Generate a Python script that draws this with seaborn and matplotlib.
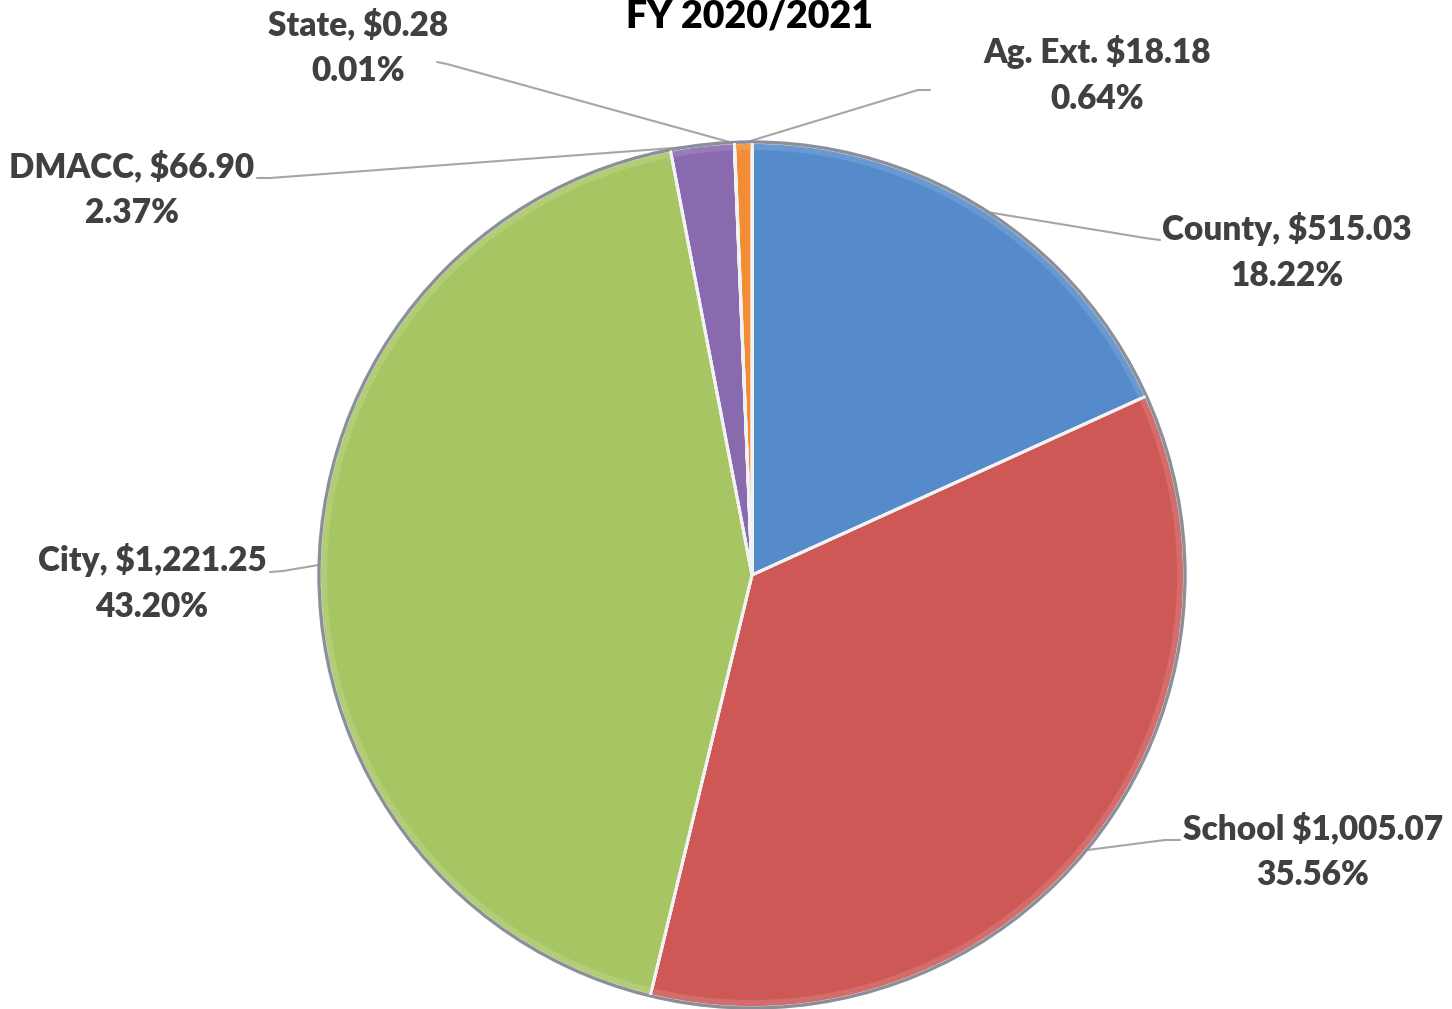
import numpy as np
import matplotlib
matplotlib.use("Agg")
import matplotlib.pyplot as plt
import seaborn as sns
from matplotlib.patches import Circle, Wedge

# Property tax dollar split, FY 2020/2021
categories = ["County", "School", "City", "DMACC", "State", "Ag. Ext."]
separators = [",", "", ",", ",", ",", ""]
amounts = [515.03, 1005.07, 1221.25, 66.90, 0.28, 18.18]
colors = ["#568BCB", "#CD5856", "#A7C663", "#8A6AAF", "#B9C9DA", "#F28C35"]

# label text centres (px from top-left) and leader elbow points
label_xy = [(1287, 252), (1313, 852), (152, 583), (132, 190), (358, 48), (1097, 75)]
leader_start = [(1160, 240), (1180, 840), (270, 572), (257, 178), (437, 62), (930, 90)]
leader_elbow = [(1145, 238), (1165, 840), (283, 571), (270, 178), (447, 64), (918, 90)]

W, H = 1452, 1009
cx, cy, R = 752, 575, 432

sns.set_theme(style="white")
plt.rcParams["font.family"] = ["Lato", "DejaVu Sans"]

fig = plt.figure(figsize=(W / 100, H / 100), dpi=100)
ax = fig.add_axes([0, 0, 1, 1])

center = (cx, H - cy)
wedges, _ = ax.pie(amounts, colors=colors, startangle=90, counterclock=False,
                   center=center, radius=R,
                   wedgeprops=dict(edgecolor="#EDEDED", linewidth=2.2))

# bevel rim: soft lighter band along the outer edge of each slice
for w, c in zip(wedges, colors):
    rgb = np.array(matplotlib.colors.to_rgb(c))
    light = rgb + (1 - rgb) * 0.12
    ax.add_patch(Wedge(center, R - 1, w.theta1, w.theta2, width=6,
                       facecolor=light, edgecolor="none", zorder=2.5))
ax.add_patch(Circle(center, R + 1, facecolor="none", edgecolor="#8A8F99",
                    linewidth=2.4, zorder=3))
for w in wedges:
    for t in (w.theta1, w.theta2):
        a = np.deg2rad(t)
        ax.plot([center[0], center[0] + R * np.cos(a)],
                [center[1], center[1] + R * np.sin(a)],
                color="#F2F2F2", lw=2.0, zorder=3.2, solid_capstyle="butt")

total = sum(amounts)
txt_color = "#404040"
for w, name, sep, amt, (lx, ly), (sx, sy), (ex, ey) in zip(
        wedges, categories, separators, amounts, label_xy, leader_start, leader_elbow):
    mid = np.deg2rad((w.theta1 + w.theta2) / 2)
    axp = center[0] + R * np.cos(mid)
    ayp = center[1] + R * np.sin(mid)
    ax.plot([sx, ex, axp], [H - sy, H - ey, ayp], color="#A6A6A6", lw=1.5, zorder=1)
    pct = amt / total * 100
    text = f"{name}{sep} ${amt:,.2f}\n{pct:.2f}%"
    ax.text(lx, H - ly, text, ha="center", va="center", fontsize=24,
            fontweight="heavy", color=txt_color, linespacing=1.55, zorder=5)

ax.text(750, H - 16, "FY 2020/2021", ha="center", va="center", fontsize=27,
        fontweight="heavy", color="#000000", zorder=5)

ax.set_xlim(0, W)
ax.set_ylim(0, H)
ax.set_aspect("auto")
ax.axis("off")

fig.savefig("out.png", dpi=100, facecolor="white")
